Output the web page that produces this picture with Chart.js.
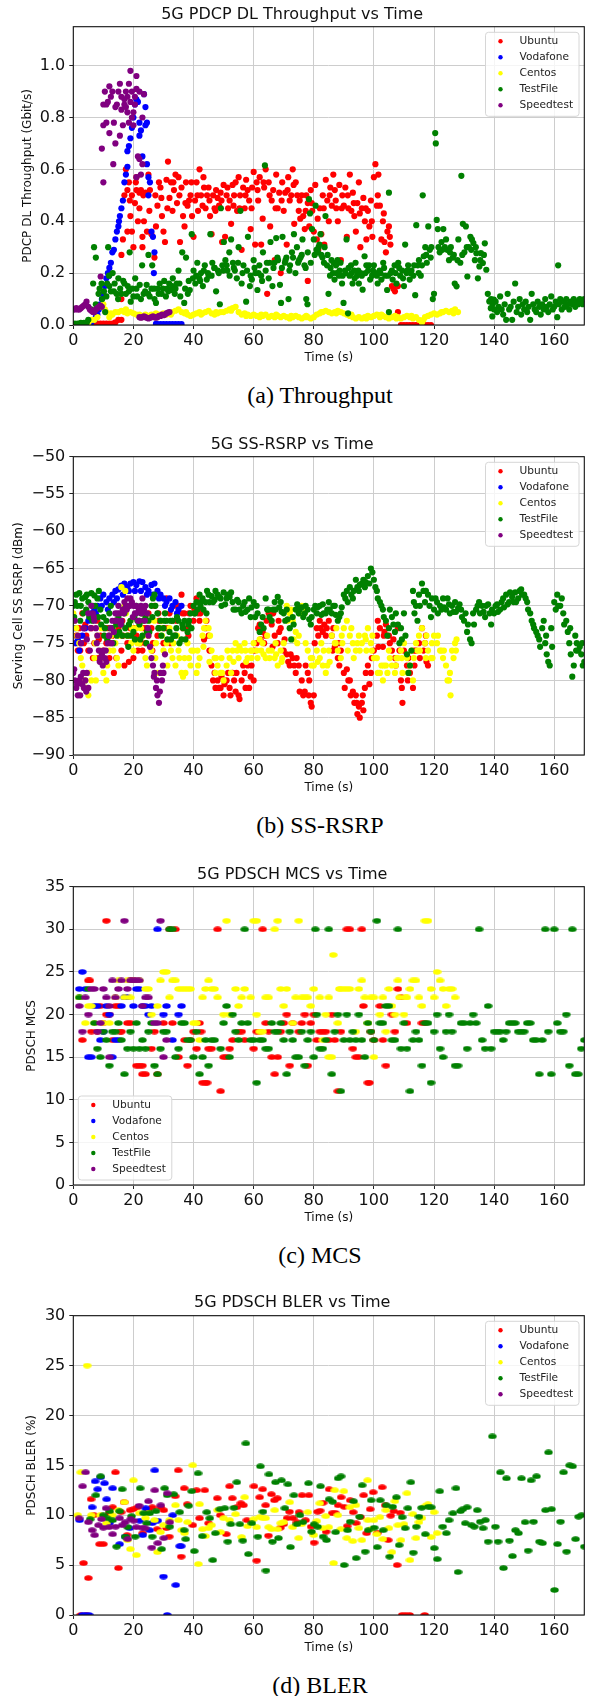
<!DOCTYPE html>
<html>
<head>
<meta charset="utf-8">
<script src="https://cdn.jsdelivr.net/npm/chart.js@4.4.1/dist/chart.umd.min.js"></script>
<style>
  html, body { margin: 0; padding: 0; background: #fff; }
  body { width: 589px; height: 1696px; position: relative; overflow: hidden; }
  .box { position: absolute; left: 0; width: 589px; }
  .cap { position: absolute; left: 0; width: 640px; text-align: center;
         font-family: 'Liberation Serif', 'Times New Roman', serif; font-size: 24px;
         line-height: 28px; color: #000; }
</style>
</head>
<body>
<div class="box" style="top:0px"><canvas id="c1" width="589" height="373"></canvas></div>
<div class="cap" style="top:381px">(a) Throughput</div>
<div class="box" style="top:430px"><canvas id="c2" width="589" height="373"></canvas></div>
<div class="cap" style="top:811px">(b) SS-RSRP</div>
<div class="box" style="top:860px"><canvas id="c3" width="589" height="373"></canvas></div>
<div class="cap" style="top:1241px">(c) MCS</div>
<div class="box" style="top:1288px"><canvas id="c4" width="589" height="375"></canvas></div>
<div class="cap" style="top:1671px">(d) BLER</div>
<script>
const seriesNames = ["Ubuntu", "Vodafone", "Centos", "TestFile", "Speedtest"];
const seriesColors = ["#ff0000", "#0000ff", "#ffff00", "#008000", "#800080"];

// ---- (a) PDCP DL throughput, Gbit/s  [time, value]
const ubuntuTput = [[2,0],[3,0],[4,0],[5,0],[6,0.003],[7,0.003],[8,0.005],[9,0.005],[10,0.005],[11,0.005],[12,0.005],[13,0.005],[14,0.01],[15,0.02],[16,0.02],[16,0.1],
[16,0.27],[16.5,0.33],[17,0.5],[17.5,0.6],[18,0.52],[18,0.36],[18.5,0.55],[19,0.42],[19.5,0.36],[19.5,0.5],[20,0.3],[20.5,0.47],[21,0.57],[21,0.52],[21.5,0.4],[22,0.45],[22,0.51],[22.5,0.52],[23,0.34],[23,0.3],[23.5,0.4],[24,0.51],[24.5,0.36],[25,0.58],[25.5,0.52],[26,0.35],[27,0.26],[27.5,0.38],[28,0.46],[28.5,0.55],[29,0.53],[29.5,0.42],[30,0.36],[30.5,0.32],[31,0.56],[31.5,0.63],[32,0.49],[32.5,0.55],[33,0.44],[33.5,0.52],[34,0.58],[34.5,0.47],[35,0.57],[35.5,0.32],[36,0.53],[36.5,0.42],[37,0.38],[37.5,0.55],[38,0.46],[38.5,0.48],[39,0.5],[39.5,0.42],[40,0.34],[40.5,0.48],[41,0.55],[41.5,0.44],[42,0.6],[42.5,0.5],[43,0.46],[43.5,0.53],[44,0.45],[44.5,0.5],[45,0.53],[45.5,0.42],[46,0.35],[46.5,0.5],[47,0.45],[47.5,0.52],[48,0.49],[48.5,0.46],[49,0.51],[49.5,0.32],[50,0.54],[50.5,0.34],[51,0.5],[51.5,0.45],[52,0.48],[52.5,0.39],[53,0.54],[53.5,0.5],[54,0.55],[54.5,0.44],[55,0.57],[55.5,0.5],[56,0.29],[56.5,0.53],[57,0.45],[57.5,0.56],[58,0.52],[58.5,0.48],[59,0.37],[59.5,0.53],[60,0.59],[60.5,0.31],[61,0.55],[61.5,0.48],[62,0.57],[62.5,0.31],[63,0.41],[63.5,0.53],[64,0.6],[64.5,0.12],[65,0.55],[65.5,0.38],[66,0.48],[66.5,0.52],[67,0.25],[67.5,0.58],[68,0.45],[68.5,0.51],[69,0.2],[69.5,0.55],[70,0.44],[70.5,0.51],[71,0.31],[71.5,0.57],[72,0.48],[72.5,0.5],[73,0.6],[73.5,0.39],[74,0.55],[74.5,0.5],[75,0.44],[75.5,0.41],[76,0.5],[76.5,0.42],[77,0.37],[77.5,0.5],[78,0.17],[78,0.47],[78.5,0.38],[79,0.52],[79.5,0.44],[80,0.36],[80.5,0.54],[81,0.33],[81.5,0.29],[82,0.45],[82.5,0.35],[83,0.5],[83.5,0.31],[84,0.56],[84.5,0.48],[85,0.4],[85.5,0.53],[86,0.46],[86.5,0.58],[87,0.52],[87.5,0.45],[88,0.4],[88.5,0.54],[89,0.25],[89.5,0.5],[90,0.46],[90.5,0.53],[91,0.34],[91.5,0.45],[92,0.58],[92.5,0.44],[93,0.51],[93.5,0.42],[94,0.36],[94.5,0.47],[95,0.55],[95.5,0.3],[96,0.45],[96.5,0.49],[97,0.4],[97.5,0.33],[98,0.44],[98.5,0.38],[99,0.48],[99.5,0.34],[100,0.57],[100.5,0.62],[101,0.46],[101.5,0.58],[102,0.46],[102.5,0.33],[103,0.4],[103.5,0.32],[104,0.28],[104.5,0.36],[105,0.38],[105.5,0.31],[106,0.15],[106.5,0.14],[107,0.13],[108,0.15],[108,0.05],
[18.8,0.48],[20.8,0.55],[23.3,0.5],[25.3,0.44],[27.3,0.5],[29.3,0.49],[31.3,0.45],[33.3,0.55],[35.3,0.5],[37.3,0.47],[39.3,0.55],[41.3,0.5],[43.3,0.57],[45.3,0.48],[47.3,0.44],[49.3,0.48],[51.3,0.53],[53.3,0.46],[55.3,0.45],[57.3,0.5],[59.3,0.45],[61.3,0.52],[63.3,0.55],[65.3,0.5],[67.3,0.45],[69.3,0.48],[71.3,0.52],[73.3,0.54],[75.3,0.48],[77.3,0.44],[79.3,0.47],[81.3,0.41],[83.3,0.45],[85.3,0.5],[87.3,0.48],[89.3,0.45],[91.3,0.5],[93.3,0.47],[95.3,0.43],[97.3,0.45],[99.3,0.4],[101.3,0.5],[103.3,0.43],[105.3,0.34],
[109,0],[110,0],[111,0],[112,0],[113,0],[114,0],[115,0],[116,0],[117,0],[118,0],[119,0]];

const vodafoneTput = [[5,0.005],[6,0.01],[7,0.02],[7.5,0.03],[8,0.04],[8.5,0.06],[9,0.08],[9.5,0.1],[10,0.12],[10.5,0.15],[11,0.18],[11.5,0.2],[11.9,0.19],[12,0.22],[12.5,0.24],[13,0.28],[13.5,0.29],[14,0.33],[14.5,0.36],[15,0.38],[15.2,0.4],[15.5,0.42],[16,0.45],[16.5,0.48],[17,0.55],[17.5,0.58],[18,0.61],[18,0.67],[18.5,0.69],[19,0.72],[19.5,0.76],[20,0.8],[20.5,0.85],[21,0.87],[21.5,0.86],[22,0.78],[22,0.73],[22.5,0.75],[23,0.65],[23.5,0.89],[24,0.84],[24,0.77],[24.5,0.78],[24.5,0.62],[25,0.57],[25,0.5],[25.5,0.55],[26,0.36],[26.5,0.34],[27,0.28],[26.8,0.2],
[27.5,0.004],[28,0.003],[29,0.003],[30,0.003],[31,0.003],[32,0.003],[33,0.003],[34,0.003],[35,0.003],[36,0.003]];

const centosTput = [[0,0],[1,0],[2,0.003],[3,0.005],[4,0.005],[5,0.008],[6,0.02],[7,0.02],[8,0.03],[9,0.07],[10,0.08],[10.5,0.06],[11,0.05],[12,0.03],[13,0.04],[14,0.05],[15,0.05],[16,0.055],[17,0.05],[18,0.045],[19,0.05],[20,0.045],[21,0.04],[22,0.04],[23,0.035],[24,0.04],[25,0.035],[26,0.04],[27,0.04],[28,0.04],[29,0.04],[30,0.045],[31,0.04],[32,0.045],[33,0.05],[34,0.055],[35,0.06],[36,0.05],[37,0.045],[38,0.04],[39,0.035],[40,0.04],[41,0.045],[42,0.05],[43,0.045],[44,0.05],[45,0.055],[46,0.045],[47,0.04],[48,0.045],[49,0.05],[50,0.05],[51,0.055],[52,0.06],[53,0.065],[54,0.07],[55,0.05],[56,0.04],[57,0.045],[58,0.04],[59,0.035],[60,0.04],[61,0.035],[62,0.03],[63,0.035],[64,0.04],[65,0.03],[66,0.035],[67,0.03],[68,0.035],[69,0.03],[70,0.035],[71,0.03],[72,0.025],[73,0.03],[74,0.035],[75,0.03],[76,0.025],[77,0.03],[78,0.03],[79,0.025],[80,0.03],[81,0.04],[82,0.045],[83,0.05],[84,0.055],[85,0.05],[86,0.045],[87,0.05],[88,0.055],[89,0.05],[90,0.045],[91,0.04],[92,0.035],[93,0.03],[94,0.025],[95,0.03],[96,0.025],[97,0.03],[98,0.035],[99,0.03],[100,0.035],[101,0.04],[102,0.03],[103,0.035],[104,0.03],[105,0.025],[106,0.03],[107,0.035],[108,0.03],[109,0.025],[110,0.03],[111,0.035],[112,0.03],[113,0.025],[114,0.03],[115,0.02],[116,0.01],[116.5,0.02],[117,0.03],[118,0.035],[119,0.04],[120,0.045],[121,0.04],[122,0.045],[123,0.05],[124,0.055],[125,0.05],[126,0.055],[127,0.06],[128,0.05],
[12.5,0.045],[17.5,0.06],[22.5,0.03],[27.5,0.045],[32.5,0.04],[37.5,0.05],[42.5,0.04],[47.5,0.05],[52.5,0.055],[57.5,0.035],[62.5,0.04],[67.5,0.04],[72.5,0.035],[77.5,0.035],[82.5,0.05],[87.5,0.045],[92.5,0.04],[97.5,0.025],[102.5,0.04],[107.5,0.025],[112.5,0.035],[122.5,0.05],[126.5,0.045]];

const testfileTput = [[0.5,0.005],[1.5,0.005],[2.5,0.008],[3.5,0.008],[4.5,0.01],[5,0.02],[5.9,0.06],[6.6,0.16],[6.9,0.3],[7.5,0.26],[7.5,0.08],[8.4,0.12],[8.75,0.14],[9.4,0.16],[9.6,0.1],[10.6,0.05],[11.25,0.16],[11.6,0.3],[11.9,0.19],[12.5,0.13],[13.1,0.2],[13.75,0.16],[14.4,0.12],[15,0.18],[15.6,0.14],[16.6,0.17],[17.5,0.12],[18.1,0.15],[18.75,0.28],[19.1,0.09],[19.6,0.14],[20.6,0.18],[21.25,0.11],[22.1,0.155],[22.9,0.23],[23.4,0.12],[24.4,0.155],[25,0.27],[25.4,0.11],[26.25,0.23],[26.9,0.14],[27.5,0.085],[28.1,0.14],[28.75,0.16],[29.4,0.12],[30.25,0.17],[31.25,0.14],[31.9,0.16],[32.5,0.135],[33.1,0.18],[33.75,0.12],[34.4,0.16],[35,0.21],[35.6,0.11],[36.25,0.28],[36.9,0.085],[37.5,0.26],[38.1,0.12],[38.75,0.135],[39.4,0.35],[40,0.21],[40.6,0.16],[41.25,0.24],[41.9,0.18],[42.5,0.2],[43.1,0.15],[43.75,0.23],[44.4,0.175],[45,0.19],[45.6,0.35],[46.25,0.24],[46.9,0.22],[47.5,0.13],[48.1,0.21],[48.75,0.08],[49.1,0.45],[49.6,0.23],[50.1,0.32],[50.6,0.25],[51.25,0.21],[51.9,0.28],[52.5,0.33],[53.1,0.24],[53.75,0.21],[54.4,0.18],[55,0.3],[55.6,0.44],[56,0.16],[56.6,0.23],[57.5,0.09],[58.1,0.34],[58.75,0.15],[59.4,0.175],[60,0.25],[60.6,0.2],[61.25,0.135],[61.9,0.23],[62.5,0.19],[63.1,0.28],[63.75,0.615],[64.4,0.24],[65,0.18],[65.6,0.32],[66.25,0.15],[66.9,0.24],[67.5,0.335],[68.1,0.25],[68.75,0.155],[69.1,0.085],[69.6,0.34],[70.4,0.24],[70.9,0.26],[71.6,0.1],[72.1,0.23],[72.75,0.28],[73.4,0.35],[73.9,0.2],[74.4,0.3],[75.1,0.25],[75.6,0.26],[76.25,0.33],[76.9,0.23],[77.5,0.1],[77.9,0.08],[78.4,0.485],[78.75,0.43],[79.4,0.37],[80,0.33],[80.6,0.46],[80.9,0.29],[81.4,0.28],[81.9,0.31],[82.25,0.35],[82.9,0.26],[83.4,0.24],[83.9,0.42],[84.4,0.23],[84.9,0.12],[85.4,0.19],[85.9,0.25],[86.4,0.2],[86.9,0.175],[87.4,0.23],[87.9,0.25],[88.4,0.19],[88.9,0.24],[89.4,0.16],[89.9,0.085],[90.4,0.21],[90.9,0.33],[91.4,0.045],[91.9,0.19],[92.4,0.23],[92.9,0.16],[93.4,0.21],[93.9,0.24],[94.4,0.19],[95,0.16],[95.6,0.2],[96.25,0.136],[96.9,0.265],[97.5,0.23],[98.1,0.21],[98.75,0.175],[99.4,0.19],[100,0.23],[100.6,0.2],[101.25,0.16],[101.9,0.21],[102.5,0.175],[103.1,0.24],[103.75,0.19],[104.4,0.135],[105,0.51],[105,0.05],[105.6,0.2],[106.25,0.175],[106.9,0.23],[107.5,0.16],[108.1,0.24],[108.75,0.19],[109.4,0.21],[110,0.15],[110.4,0.31],[110.9,0.2],[111.4,0.23],[111.9,0.175],[112.5,0.21],[113.1,0.19],[113.75,0.115],[114.1,0.385],[114.6,0.23],[115,0.25],[115.6,0.19],[116.25,0.5],[116.6,0.265],[117.1,0.3],[117.6,0.24],[118.1,0.38],[118.6,0.29],[119.1,0.3],[119.6,0.1],[120,0.12],[120.4,0.74],[120.6,0.7],[120.9,0.405],[121.25,0.37],[121.9,0.28],[122.5,0.32],[123.1,0.37],[123.6,0.3],[124.4,0.29],[125,0.25],[125.6,0.3],[126.25,0.26],[126.9,0.16],[127.5,0.149],[128.1,0.33],[128.75,0.24],[129.1,0.575],[129.6,0.39],[130.1,0.28],[130.6,0.38],[131.1,0.187],[131.6,0.3],[132.1,0.34],[132.6,0.33],[133.1,0.316],[133.6,0.25],[134.1,0.277],[134.6,0.18],[135.1,0.226],[135.6,0.277],[136.25,0.239],[136.9,0.315],[137.4,0.213],[137.9,0.12],[138.4,0.091],[138.9,0.065],[139.4,0.033],[139.9,0.098],
[10.2,0.13],[11,0.11],[12,0.15],[13.5,0.13],[14.9,0.1],[16,0.12],[17,0.16],[18.5,0.13],[20,0.11],[21,0.14],[22.5,0.1],[23.9,0.13],[24.9,0.12],[26,0.14],[27,0.1],[28.4,0.12],[29.8,0.14],[30.8,0.11],[31.6,0.13],[32.9,0.15],[34,0.14],[35.3,0.16],[37.2,0.14],[38.4,0.17],[39.8,0.18],[40.9,0.19],[42.2,0.17],[43.4,0.21],[44.8,0.2],[46,0.19],[47,0.22],[48.4,0.2],[49.9,0.21],[51,0.23],[52,0.19],[53.4,0.22],[54.8,0.24],[56.3,0.2],[57.8,0.21],[59,0.19],[60.3,0.22],[61.6,0.2],[62.8,0.17],[64,0.21],[65.3,0.24],[66.6,0.22],[67.9,0.26],[69.4,0.22],[70.6,0.25],[71.9,0.21],[73.1,0.26],[74.8,0.24],[76,0.27],[77.3,0.22],[78,0.28],[79,0.24],[80.3,0.27],[81.6,0.3],[82.5,0.27],[83.6,0.3],[84.6,0.27],[85.6,0.22],[86.6,0.24],[87.6,0.2],[88.6,0.21],[89.6,0.19],[90.6,0.2],[91.6,0.22],[92.6,0.2],[93.6,0.18],[94.8,0.21],[96,0.19],[97.2,0.2],[98.4,0.23],[99.7,0.21],[101,0.19],[102.2,0.2],[103.4,0.22],[104.7,0.19],[106,0.21],[107.2,0.2],[108.4,0.22],[109.7,0.18],[111.1,0.21],[112.2,0.2],[113.4,0.23],[114.9,0.2],[116,0.23],[117.4,0.27],[118.9,0.26],[121.5,0.3],[122.8,0.29],[124,0.33],[125.3,0.28],[126.6,0.27],[127.8,0.25],[129.4,0.27],[130.9,0.3],[132.4,0.29],[133.9,0.3],[135.4,0.25],[136.6,0.27],
[139,0.1],[139.5,0.08],[140,0.06],[140.5,0.09],[141,0.05],[141.5,0.07],[142,0.11],[142.5,0.06],[143,0.04],[143.5,0.08],[144,0.02],[144.5,0.12],[145,0.06],[145.5,0.07],[146,0.02],[146.5,0.09],[147,0.16],[147.5,0.05],[148,0.07],[148.5,0.1],[149,0.04],[149.5,0.08],[150,0.06],[150.5,0.09],[151,0.05],[151.5,0.07],[152,0.02],[152.5,0.12],[153,0.08],[153.5,0.06],[154,0.05],[154.5,0.09],[155,0.07],[155.5,0.04],[156,0.08],[156.5,0.06],[157,0.1],[157.5,0.07],[158,0.05],[158.5,0.08],[159,0.11],[159.5,0.06],[160,0.07],[160.5,0.09],[161,0.03],[161.3,0.23],[161.5,0.08],[162,0.1],[162.5,0.06],[163,0.09],[163.5,0.07],[164,0.1],[164.5,0.08],[165,0.06],[165.5,0.09],[166,0.08],[166.5,0.1],[167,0.07],[167.5,0.09],[168,0.08],[168.5,0.1],[169,0.09],[169.5,0.08],[170,0.1]];

const speedtestTput = [[0,0.06],[0.5,0.06],[1,0.065],[1.5,0.06],[2,0.06],[2.5,0.065],[3,0.07],[3.5,0.075],[4,0.08],[4.4,0.09],[5,0.07],[5.5,0.06],[6,0.055],[6.5,0.05],[7,0.05],[7.5,0.06],[8,0.065],[8.5,0.07],[9,0.075],[9.1,0.187],[9.5,0.07],
[9.5,0.68],[10,0.55],[10,0.77],[10,0.85],[10.5,0.9],[11,0.85],[11,0.78],[11.5,0.86],[12,0.92],[12,0.74],[12.5,0.88],[13,0.9],[13.3,0.62],[13.5,0.78],[14,0.7],[14,0.84],[14.5,0.85],[15,0.9],[15.5,0.93],[15.5,0.73],[16,0.88],[16,0.83],[16.5,0.77],[17,0.85],[17,0.87],[17.5,0.84],[17.5,0.9],[18,0.88],[18,0.82],[18.5,0.78],[18.5,0.93],[19,0.98],[19,0.86],[19.5,0.9],[19.5,0.8],[20,0.82],[20,0.77],[20.5,0.88],[20.5,0.85],[21,0.96],[21,0.91],[21,0.57],[21.5,0.65],[22,0.64],[22,0.9],[22.5,0.58],[23,0.62],[23,0.8],[23.5,0.89],
[22,0.03],[22.5,0.028],[23,0.03],[23.5,0.033],[24,0.03],[24.5,0.028],[25,0.025],[25.5,0.028],[26,0.03],[26.5,0.033],[27,0.03],[27.5,0.028],[28,0.03],[28.5,0.035],[29,0.035],[29.5,0.04],[30,0.038],[30.5,0.04],[31,0.045],[31.5,0.048],[32,0.05]];

// ---- (b) SS-RSRP, dBm
const ubuntuRsrp = [[0,-72],[1,-74],[2,-73],[3,-71],[4,-72.5],[5,-76],[6,-73],[7,-75],[8,-72],[9,-74],[10,-76],[11,-75],[12,-77],[13,-74],[14,-72],[15,-73],[16,-76],[17,-78],[18,-75],[19,-73],[20,-77],[21,-74],[22,-72],[23,-76],[24,-75],[25,-71],[26,-73],[27,-70],[28,-74],[29,-72],[30,-75],[31,-69],[32,-71],[33,-72],[34,-74],[35,-70],[36,-68.5],[37,-71],[38,-73],[39,-70],[40,-72],[41,-69],[42,-72],[43,-70.5],[44,-73],[45,-74],[46,-78],[47,-79],[48,-80],[49,-81],[50,-82],[51,-80],[52,-81],[53,-79],[54,-81.5],[55,-82],[56,-80],[57,-79],[58,-78],[59,-79.5],[60,-80],[61,-75],[62,-72.5],[63,-73.5],[64,-74],[65,-71],[66,-72.5],[67,-74],[68,-75],[69,-73],[70,-76],[71,-76.5],[72,-78],[73,-77],[74,-79],[75,-78],[76,-80],[77,-81.5],[78,-79],[79,-83],[80,-82],[81,-73],[82,-72],[83,-73.5],[84,-74],[85,-72],[86,-74],[87,-75.5],[88,-77],[89,-76],[90,-79],[91,-78.5],[92,-80],[93,-81.5],[94,-82],[94.5,-84.5],[95,-83.5],[96,-83],[97,-81],[98,-78],[99,-79],[100,-76],[101,-74],[102,-73],[103,-75.5],[104,-72.5],[105,-74],[106,-76],[107,-77],[108,-73],[109,-80],[109.5,-83],[110,-76],[111,-78],[112,-79],[113,-81],[114,-76],[115,-75],[116,-73],[117,-75],[118,-78],
[1.5,-76],[3.5,-75],[6.5,-77],[8.5,-74.5],[11.5,-73],[13.5,-79],[16.5,-74],[18.5,-77.5],[21.5,-76],[23.5,-73],[26.5,-75],[28.5,-72],[31.5,-73],[33.5,-70],[36.5,-73],[38.5,-71],[41.5,-71],[43.5,-74.5],[46.5,-80],[48.5,-81],[51.5,-79],[53.5,-80],[56.5,-78],[58.5,-81],[61.5,-73],[63.5,-75],[66.5,-71],[68.5,-73.5],[71.5,-77.5],[73.5,-78],[76.5,-82],[78.5,-80],[81.5,-74],[83.5,-72.5],[86.5,-73],[88.5,-78],[91.5,-80],[93.5,-83],[96.5,-84],[98.5,-80.5],[101.5,-75.5],[103.5,-73.5],[106.5,-74.5],[108.5,-76],[111.5,-77],[113.5,-78],[116.5,-76],[117.5,-77.5],
[0.3,-75],[2.3,-76],[4.3,-74],[6.3,-71],[8.3,-77],[10.3,-73],[12.3,-75],[14.3,-77],[16.3,-72],[18.3,-74],[20.3,-73],[22.3,-75],[24.3,-73],[26.3,-76],[28.3,-71],[30.3,-73],[32.3,-75],[34.3,-72],[36.3,-71],[38.3,-74],[40.3,-70.5],[42.3,-71],[44.3,-72],[45.3,-76],[47.3,-81],[49.3,-79.5],[50.3,-80.5],[52.3,-82],[54.3,-79],[55.3,-82.5],[57.3,-81],[59.3,-78],[60.3,-76],[62.3,-74.5],[64.3,-72],[66.3,-75.5],[68.3,-72],[70.3,-74.5],[72.3,-76.5],[74.3,-77],[75.3,-81.5],[77.3,-78],[78.3,-82],[79.3,-83.5],[80.3,-75],[82.3,-73],[84.3,-73],[86.3,-76],[88.3,-75],[90.3,-81],[92.3,-82],[94.3,-83],[95.3,-85],[96.3,-82],[97.3,-79],[99.3,-77],[101.3,-72],[103.3,-74],[105.3,-75],[107.3,-78],[109.3,-81],[111.3,-80],[113.3,-76],[115.3,-77],[117.3,-74]];

const vodafoneRsrp = [[0,-72],[0.5,-73],[1,-75],[1.5,-74.5],[2,-76],[3,-74],[4,-73],[5,-72],[6,-71],[7,-70.5],[8,-70],[9,-69],[10,-68.5],[11,-69.5],[12,-69],[13,-68.5],[14,-68],[15,-67.8],[16,-67.3],[17,-67],[18,-67.5],[19,-67],[20,-66.8],[21,-67.2],[22,-66.7],[23,-66.8],[24,-67.5],[25,-68],[26,-67.2],[27,-67],[28,-68],[29,-68.5],[30,-69],[31,-69.5],[32,-69],[33,-70],[34,-69.5],[35,-70.5],[36,-70],
[2.5,-75],[3.5,-73],[5.5,-71.5],[7.5,-71],[9.5,-70],[11.5,-70.5],[13.5,-69.5],[14.5,-69],[16.5,-68.5],[18.5,-68],[20.5,-68],[22.5,-68],[24.5,-68.5],[26.5,-68.5],[28.5,-69],[30.5,-70],[32.5,-70.5],[34.5,-71]];

const centosRsrp = [[0,-71],[1,-73],[2,-75],[3,-78],[4,-80],[5,-82],[6,-80],[7,-77],[8,-74],[9,-76],[10,-79],[11,-80],[12,-76],[13,-73],[14,-75],[15,-78],[16,-67.5],[17,-70],[18,-74],[19,-72],[20,-76],[21,-73],[22,-75],[23,-71],[24,-77],[25,-74],[26,-76],[27,-72],[28,-79],[29,-73],[30,-76],[31,-75],[32,-73],[33,-77],[34,-78],[35,-76],[36,-79],[37,-77],[38,-75],[39,-78],[40,-76],[41,-79],[42,-77],[43,-74],[44,-72],[45,-73],[46,-76],[47,-77],[48,-78],[49,-79],[50,-80],[51,-78],[52,-77],[53,-76],[54,-75],[55,-77],[56,-76],[57,-75],[58,-77],[59,-76],[60,-75],[61,-76],[62,-74.5],[63,-75],[64,-77],[65,-76],[66,-76],[67,-77],[68,-78],[69,-76],[70,-75],[71,-70],[72,-71],[73,-72],[74,-73.5],[75,-74],[76,-70],[77,-71],[78,-76],[79,-77],[80,-78],[81,-76],[82,-77],[83,-78],[84,-79],[85,-76],[86,-74],[87,-75],[88,-76],[89,-77],[90,-73],[91,-72],[92,-74],[93,-75],[94,-76],[95,-74],[96,-75],[97,-74],[98,-73],[99,-75],[100,-77],[101,-77],[102,-79],[103,-80],[104,-78],[105,-76],[106,-78],[107,-79],[108,-77],[109,-76],[110,-75],[111,-77],[112,-78],[113,-80],[114,-75],[115,-74],[116,-73],[117,-75],[118,-76],[119,-77],[120,-74],[121,-75],[122,-76],[123,-77],[124,-78],[125,-80],[125.5,-82],[126,-76],[127,-75],
[0.5,-72],[2.5,-77],[4.5,-81],[7.5,-80],[9.5,-77],[12.5,-74],[14.5,-77],[17.5,-71],[19.5,-73],[22.5,-73],[24.5,-78],[27.5,-75],[29.5,-74],[32.5,-76],[34.5,-74],[36.5,-79.5],[38.5,-77],[41.5,-78],[43.5,-73],[45.5,-74],[47.5,-77],[49.5,-79],[52.5,-79],[54.5,-76],[57.5,-77.5],[59.5,-76],[62.5,-76],[64.5,-74],[67.5,-76.5],[69.5,-77],[72.5,-70.5],[74.5,-75],[77.5,-70.5],[79.5,-77],[82.5,-75],[84.5,-78],[87.5,-73],[89.5,-75],[92.5,-73],[94.5,-75],[97.5,-76],[99.5,-74],[102.5,-78],[104.5,-79],[107.5,-77],[109.5,-79],[112.5,-76],[114.5,-76],[117.5,-74],[119.5,-77],[122.5,-76],[124.5,-80],[126.5,-77],[127.5,-74.5],
[1.3,-74],[3.3,-80],[5.3,-79],[7.3,-75],[9.3,-73],[11.3,-78],[13.3,-76],[15.3,-74],[17.3,-68],[19.3,-75],[21.3,-75],[23.3,-74],[25.3,-72],[27.3,-77],[29.3,-72],[31.3,-78],[33.3,-75],[35.3,-77],[37.3,-79],[39.3,-76],[41.3,-76],[43.3,-75.5],[45.3,-77.5],[47.3,-79],[49.3,-77],[51.3,-76],[53.3,-77.5],[55.3,-75.5],[57.3,-76],[59.3,-77],[61.3,-77],[63.3,-76.5],[65.3,-77],[67.3,-75],[69.3,-77.5],[71.3,-72],[73.3,-74.5],[75.3,-71],[77.3,-75],[79.3,-78],[81.3,-77.5],[83.3,-76],[85.3,-77.5],[87.3,-75],[89.3,-74],[91.3,-76],[93.3,-77],[95.3,-76],[97.3,-74.5],[99.3,-76],[101.3,-79],[103.3,-78],[105.3,-77],[107.3,-78],[109.3,-77],[111.3,-79],[113.3,-77],[115.3,-76],[117.3,-77],[119.3,-75],[121.3,-74],[123.3,-76],[125.3,-79],[127.3,-76]];

const testfileRsrp = [[0,-70],[1,-68.5],[2,-68.3],[3,-69],[4,-68.8],[5,-69.5],[6,-68.3],[7,-68.6],[8,-69],[9,-70.5],[10,-71.5],[11,-72],[12,-71],[13,-73],[14,-72],[15,-71.5],[16,-72.5],[17,-71],[18,-74],[19,-72],[20,-73.5],[21,-70],[22,-72.5],[23,-74],[24,-71.5],[25,-72],[26,-70],[27,-68.5],[28,-71],[29,-72],[30,-73],[31,-72],[32,-73.5],[33,-72],[34,-74],[35,-72],[36,-74.5],[37,-72],[38,-73.5],[39,-71],[40,-70],[41,-69.5],[42,-68.5],[43,-69],[44,-69.5],[45,-68.5],[46,-68.7],[47,-69.2],[48,-68.5],[49,-69],[50,-68.2],[51,-69],[52,-68.8],[53,-69.5],[54,-70.5],[55,-69.5],[56,-71],[57,-69.5],[58,-70.5],[59,-71.5],[60,-69.5],[61,-70],[62,-73.5],[63,-71.5],[64,-69],[65,-70.5],[66,-72],[67,-69.5],[68,-68.8],[69,-69.5],[70,-71],[71,-70.5],[72,-73],[73,-71.5],[74,-70.5],[75,-71],[76,-70.2],[77,-71],[78,-70.5],[79,-72.5],[80,-70.5],[81,-71],[82,-70],[83,-69.8],[84,-71],[85,-69.5],[86,-71],[87,-70],[88,-72],[89,-71],[90,-68.5],[91,-68],[92,-67.5],[93,-69],[94,-66.5],[95,-68],[96,-67],[97,-67.5],[98,-66],[99,-65],[100,-66.5],[101,-68],[102,-69.5],[103,-70.5],[104,-72],[105,-73],[106,-71.5],[107,-73.5],[108,-72.5],[109,-73],[110,-71],[111,-76.5],[112,-78],[113,-68],[114,-70],[115,-68.5],[116,-67],[117,-69.5],[118,-68.5],[119,-71.5],[120,-70.5],[121,-69.5],[122,-70],[123,-69],[124,-70.5],[125,-69.8],[126,-70],[127,-69.5],[128,-70.3],[129,-70.5],[130,-72],[131,-73.5],[132,-74.5],[133,-71],[134,-70.5],[135,-69.5],[136,-70],[137,-71.5],[138,-69.8],[139,-72.5],[140,-71],[141,-69.8],[142,-70.5],[143,-69],[144,-68.5],[145,-69.5],[146,-68.8],[147,-68.2],[148,-69],[149,-67.8],[150,-68.5],[151,-69.5],[152,-71],[153,-72.5],[154,-73.5],[155,-74.5],[156,-73],[157,-75],[158,-77.5],[159,-73],[160,-69.5],[161,-68.5],[162,-70],[163,-71],[164,-72],[165,-75],[166,-79.5],[167,-74],[168,-76],[169,-76.5],[170,-77.5],
[0.5,-69.5],[2.5,-70],[4.5,-68.5],[6.5,-70],[8.5,-68],[10.5,-73],[12.5,-70],[14.5,-74],[16.5,-70.5],[18.5,-72.5],[20.5,-74.5],[22.5,-71],[24.5,-73.5],[26.5,-69],[28.5,-73],[30.5,-71],[32.5,-74.5],[34.5,-71.5],[36.5,-73],[38.5,-72],[40.5,-71],[42.5,-69.5],[44.5,-68],[46.5,-69.5],[48.5,-68.8],[50.5,-69.8],[52.5,-68.2],[54.5,-69.2],[56.5,-70],[58.5,-69],[60.5,-71.5],[62.5,-72.5],[64.5,-70.5],[66.5,-70.5],[68.5,-70.2],[70.5,-72],[72.5,-74.5],[74.5,-69.8],[76.5,-71.5],[78.5,-71.8],[80.5,-70],[82.5,-71.2],[84.5,-70.5],[86.5,-70],[88.5,-71.5],[90.5,-69],[92.5,-68.5],[94.5,-67.5],[96.5,-66.5],[98.5,-67],[99.5,-65.5],[100.5,-67.5],[102.5,-70],[104.5,-74],[106.5,-72.5],[108.5,-75],[110.5,-74],[111.5,-79],[112.5,-76],[113.5,-71],[114.5,-72],[116.5,-68],[118.5,-70],[120.5,-69],[122.5,-70.5],[124.5,-69],[126.5,-70.8],[128.5,-69.8],[130.5,-71],[132.5,-75],[134.5,-70],[136.5,-70.8],[138.5,-71],[140.5,-70],[142.5,-69.5],[144.5,-69.8],[146.5,-69.5],[148.5,-68],[150.5,-69],[152.5,-72],[154.5,-74],[156.5,-72],[157.5,-76.5],[158.5,-78],[160.5,-70.5],[162.5,-69],[164.5,-73.5],[165.5,-76.5],[166.5,-78],[167.5,-75],[168.5,-75.5],[169.5,-78],
[0.3,-71.5],[1.3,-70],[2.3,-72],[3.3,-71],[4.3,-70.5],[5.3,-71.5],[6.3,-72],[7.3,-70],[8.3,-71.5],[9.3,-72.5],[10.3,-74],[11.3,-74.5],[12.3,-73],[13.3,-75],[14.3,-72.5],[15.3,-73.5],[16.3,-74],[17.3,-73],[18.3,-75.5],[19.3,-74],[20.3,-71.5],[21.3,-72],[22.3,-74.5],[23.3,-72],[24.3,-75],[25.3,-73.5],[26.3,-71.5],[27.3,-70],[28.3,-73],[29.3,-74],[30.3,-72],[31.3,-74.5],[32.3,-72],[33.3,-74],[34.3,-73],[35.3,-75],[36.3,-72.5],[37.3,-74.5],[38.3,-72.5],[39.3,-73],[40.3,-71],[41.3,-70.5],[42.3,-70],[43.3,-70.5],[44.3,-71],
[45.3,-69.5],[47.3,-68],[49.3,-70],[51.3,-68.5],[53.3,-70.5],[55.3,-70.5],[57.3,-70.8],[59.3,-70.2],[61.3,-71],[63.3,-73],[65.3,-71.5],[67.3,-70.5],[69.3,-70.8],[71.3,-71.8],[73.3,-72.5],[75.3,-70.5],[77.3,-70],[79.3,-71.5],[81.3,-70.2],[83.3,-71],[85.3,-70.5],[87.3,-71.2],[89.3,-70.2],[91.3,-69.5],[93.3,-68],[95.3,-67.2],[97.3,-66.8],[101.3,-69],[103.3,-71.5],[105.3,-70.5],[107.3,-71],[109.3,-74.5],[113.3,-69.5],[115.3,-70],[117.3,-68],[119.3,-69],[121.3,-71],[123.3,-70.2],[125.3,-71],[127.3,-70.8],[129.3,-71.5],[131.3,-72.5],[133.3,-72.5],[135.3,-71],[137.3,-70],[139.3,-70.5],[141.3,-70.8],[143.3,-70.2],[145.3,-68.2],[147.3,-69.5],[149.3,-68.5],[151.3,-70.5],[153.3,-73],[155.3,-75.5],[157.3,-74],[159.3,-75.5],[161.3,-70],[163.3,-72.5],[165.3,-73],[167.3,-76],[169.3,-75]];

const speedtestRsrp = [[0,-79],[0.5,-80],[1,-81],[1.5,-82],[2,-80],[2.5,-79.5],[3,-80.5],[3.5,-81],[4,-80],[4.5,-79],[5,-81],
[0.5,-72],[1.5,-74],[2.5,-75],[3.5,-73],[4.5,-74.5],[5.5,-76],
[5,-71],[6,-70],[6.5,-71],[7,-72],[7.5,-73],[8,-74],[8.5,-76],[9,-77],[9.5,-76.5],[10,-76],[10.5,-77],[11,-77.5],[11.5,-75],[12,-74],[12.5,-73],[13,-72],[13.5,-73.5],[14,-71],[14.5,-72],[15,-70],[15.5,-71],[16,-72],[16.5,-70.5],[17,-69.5],[17.5,-70],[18,-69],[18.5,-70],[19,-69],[19.5,-69.5],[20,-70],[20.5,-71],[21,-71],[21.5,-72],[22,-72],[22.5,-70],[23,-69],[23.5,-70.5],[24,-70],[24.5,-71],[25,-74],[25.5,-75.5],[26,-77],[26.5,-78],[27,-79],[27.5,-81],[28,-82],[28.5,-83],[29,-79],[29.5,-80],[30,-79],[30.5,-76.5],
[0.3,-78.5],[1.3,-80.5],[2.3,-82],[3.3,-79],[4.3,-81.5],[5.8,-73],[6.8,-71.5],[7.8,-75],[8.8,-77.5],[9.8,-78],[10.8,-76],[11.8,-74],[12.8,-75],[13.8,-72],[14.8,-71],[15.8,-72.5],[16.8,-71],[17.8,-70.5],[18.8,-70],[19.8,-71.5],[20.8,-70],[21.8,-70.5],[22.8,-71],[23.8,-72],[24.8,-73],[26.8,-79.5],[27.8,-80],[28.8,-81.5],[29.8,-78]];

// ---- (c) PDSCH MCS index
const ubuntuMcs = [[11,31],[3,17],[5,24],[5.5,24],[6,18],[8,18],[9,21],[10,19],[11,20],[12,20],[13,17],[14,21],[15,21],[15.5,18],[16,18],[18,19],[19,19],[19,24],[20,24],[21,14],[22,14],[23,14],[23,13],[24,13],[26,16],[27,18],[28,13],[30,19],[32,30],[33,19],[34,30],[35,15],[37,17],[38,14],[39,17],[40,18],[41,16],[42,19],[42.5,18],[43,12],[44,12],[44.5,12],[45,16],[46,16],[48,30],[49,11],[50,15],[51,15],[52,16],[53,17],[55,18],[56,18],[57,17],[60,16],[61,18],[62,18],[63,30],[64,19],[65,18],[66,15],[67,13],[68,15],[69,18],[70,19],[71,20],[72,14],[73,19],[75,18],[76,19],[77,20],[78,14],[79,19],[80,20],[81,17],[82,18],[83,18],[84,18],[85,17],[86,20],[87,17],[88,11],[89,18],[91,30],[92,30],[93,16],[94,15],[95,15],[96,30],[96.5,21],[98,12],[98.5,12],[99,18],[100,17],[102,21],[103,17],[104,14],[106,20],[107,18],[108,23],[109,22],[111,19],[116,19],[117,19]];
const vodafoneMcs = [[2,23],[3,25],[4,23],[5,15],[6,15],[7,21],[8,21],[9,17],[10,18],[11,21],[12,20],[13,15],[14,17],[15,17],[16,21],[17,22],[18,22],[20,21],[21,23],[22,23],[23,21],[24,21],[25,20],[26,21],[28,30],[30,20],[31,21],[33,17],[35,20],[36,21]];
const centosMcs = [[2,22],[4,19],[5,21],[6,21],[7,19],[10,19],[12,19],[14,22],[15,24],[17,22],[18,24],[19,22],[20,24],[22,24],[24,23],[25,23],[26,20],[28,21],[29,24],[30,25],[31,25],[32,22],[33,24],[34,24],[35,23],[36,23],[37,23],[38,23],[39,23],[40,19],[41,19],[42,17],[43,22],[44,23],[45,24],[46,23],[47,23],[48,22],[50,20],[51,31],[52,20],[54,23],[55,21],[56,22],[57,23],[59,22],[60,31],[61,31],[61,20],[62,18],[63,18],[64,22],[65,22],[67,30],[68,31],[69,23],[70,21],[71,23],[73,19],[74,22],[75,31],[76,22],[77,22],[78,22],[79,21],[80,23],[82,22],[83,17],[84,20],[85,22],[85,15],[86,15],[86.5,27],[88,19],[88.5,23],[89,23],[90,23],[91,23],[92,23],[94,18],[95,23],[96,24],[97,22],[98,19],[99,22],[100,22],[100,15],[102,20],[103,22],[104,18],[105,23],[106,21],[107,20],[108,24],[108.5,22],[110,20],[110.5,22],[111,22],[112,23],[113,24],[114,24],[115,22],[116,21],[117,31],[118,31],[119,23],[120,22],[121,25],[122,24],[123,23],[124,21],[125,23],[126,23],[127,22]];
const testfileMcs = [[2,22],[5,23],[7,19],[8,16],[9,15],[10,18],[11,17],[12,14],[13,18],[14,18],[15,19],[16,17],[17,13],[18,16],[19,18],[20,16],[21,19],[22,16],[23,17],[24,16],[25,18],[26,19],[27,14],[28,13],[29,16],[30,18],[31,18],[32,30],[33,30],[34,15],[35,16],[36,19],[37,19],[38,17],[39,17],[40,15],[41,18],[42,13],[43,15],[44,17],[45,14],[46,17],[47,17],[49,16],[50,19],[51,21],[52,15],[53,20],[54,18],[55,17],[56,19],[57,30],[58,19],[59,17],[60,17],[61,12],[62,17],[63,17],[64,16],[65,16],[66,19],[67,18],[68,18],[69,19],[70,17],[71,13],[72,18],[73,17],[74,15],[75,15],[76,18],[77,14],[78,17],[79,18],[80,15],[80.5,30],[81,20],[82,16],[83,16],[84,17],[85,30],[86,13],[87,18],[88,20],[89,11],[90,17],[91,20],[92,17],[93,18],[94,17],[95,20],[96,17],[97,15],[98,19],[99,18],[100,17],[101,31],[102,19],[103,19],[104,21],[105,21],[106,17],[107,17],[108,30],[109,16],[110,19],[111,16],[112,11],[113,17],[114,18],[115,17],[116,14],[117,19],[118,19],[119,12],[120,18],[121,20],[122,16],[123,15],[124,18],[125,20],[126,18],[127,14],[128,14],[129,19],[130,19],[131,16],[132,19],[133,20],[134,19],[135,30],[136,17],[137,16],[138,21],[139,16],[140,18],[141,18],[142,18],[143,17],[144,18],[145,19],[146,19],[147,19],[148,18],[149,18],[150,18],[151,19],[152,19],[153,17],[154,17],[155,13],[156,17],[157,30],[158,18],[159,13],[160,30],[161,19],[162,18],[163,18],[164,20],[165,14],[166,30],[167,13],[168,13],[169,16],[170,17]];
const speedtestMcs = [[2,21],[3,18],[4,22],[5,20],[6,23],[7,23],[8,18],[9,19],[10,23],[11,22],[12,21],[12,15],[13,24],[14,22],[15,23],[16,24],[17,31],[18,23],[19,24],[20,24],[21,24],[22,24],[23,21],[24,22],[25,22],[27,19],[28,19],[29,31],[30,15],[31,17]];

// ---- (d) PDSCH BLER, %
const ubuntuBler = [[2.5,0],[3.4,5.2],[4.4,0],[5,3.7],[5.9,11.6],[6.9,10],[8.75,7.1],[10,7.1],[11.9,10.2],[13.1,10.8],[14,14.3],[15,4.7],[15.9,10.3],[16.9,11.3],[17.9,8],[18.9,10.5],[20,10.6],[21.4,10.8],[23.1,8.2],[25,10.5],[26.25,10.8],[27.9,8.6],[29.1,10.8],[30.1,10.5],[31,8.7],[31.9,7.85],[33.9,11.9],[34.9,14.5],[35.9,5.85],[36.9,12.7],[37.9,11.1],[39.75,9],[41,12.5],[42,9.7],[43.75,12.5],[45,9.2],[47.9,11.7],[48.9,10],[50.9,8.1],[52,12.9],[52.9,11.7],[54.4,10.8],[55.75,11.2],[56.6,11],[57.75,9.5],[60.1,12.9],[61,5.45],[62,11.8],[63,12.6],[64,11],[64.9,7.95],[65.9,12.1],[66.9,11.5],[67.9,11.7],[68.9,8.75],[70,9.1],[71.1,9.7],[71.9,10.35],[73.1,9.7],[74.4,9.3],[75.1,10.3],[76.1,12],[77.25,9.5],[78.4,12],[79.1,8.85],[80.1,7.25],[81.25,10.35],[82.1,10.45],[83.1,11.25],[84.1,8.35],[85.1,12.6],[86.1,10.2],[87.1,10.25],[88.1,11],[89.1,11.8],[90.1,10.85],[91.1,8.9],[92.1,11.5],[93.1,10.3],[94.1,9.2],[95.6,9.8],[96.6,12],[97.6,8.2],[98.75,10.6],[99.75,12.3],[101.25,8.25],[102.75,12.8],[103.75,11],[104.75,7.5],[105.6,9.95],[106.6,10.4],[107.75,5],[108.75,10.25],[109.4,0],[110.6,0],[111.9,0],[116.9,0]];
const vodafoneBler = [[2.1,9.5],[3,0],[4,0],[5.25,0],[6.25,10.8],[7.25,13.4],[8.1,12.6],[9.1,13.8],[10.4,13.2],[11.1,11.6],[12,9.2],[13.1,12.7],[15.4,7.1],[17.25,7.85],[18.75,8.7],[22.1,9.45],[23.1,8],[24.1,10.7],[25.4,8.5],[26.25,9.2],[27.1,14.5],[28.1,9.45],[30,3.85],[31.25,0],[33.1,10],[34.1,3],[35.4,6.9],[35.9,6.9]];
const centosBler = [[1.5,10],[2.5,14.3],[4.6,25],[6,10],[9,10],[11,9.2],[13,10],[15,10.5],[17,11.3],[18,7.5],[19,6.6],[20,13.5],[21,6],[22,10.2],[24,9.7],[25,10.2],[27,9.5],[28,6.3],[29,8.3],[30,9],[32,9.5],[34,11],[35,9.5],[36,8.5],[37,8.2],[38,9.3],[39.75,15],[41.6,5.1],[42,11.1],[43,8.6],[44,7.9],[45,8.7],[46,9],[48,10.5],[49,8.3],[50,9.7],[52,9.5],[54,10.1],[56,7.8],[57,11.8],[58,8.9],[60,9.6],[61,8.8],[62,9.8],[63,9.7],[64,9.7],[65,8.8],[66,8.6],[67,10.5],[68,8.6],[69,9.2],[70,9.3],[72,11.3],[73,8.8],[75,7.7],[76,9.1],[78,10.3],[80,8],[81,9.4],[82,11.2],[83,8.7],[84,9.9],[85,8.8],[86.6,5.2],[87,12.5],[88,10],[89,8.6],[90,12.4],[91,7.7],[92,10.8],[93,7.4],[94,11],[95,8.7],[96,7.5],[97.9,13.5],[98,9.5],[99,8.6],[100,9.5],[101,8.1],[102,9.8],[103,7.6],[104,10.5],[105,8.7],[106,6.3],[107,11.4],[108,9],[109,7.5],[110,9.1],[111,12.2],[112,5.5],[113,10.1],[114,7.7],[115,9.3],[116,9.7],[117,10.9],[118,11.1],[119,7.8],[120,10.3],[121,8.2]];
const testfileBler = [[5.6,9.6],[7.5,12],[9.1,13.9],[10,10],[11.25,9.7],[12.1,10.4],[13.1,9.5],[14.4,6.85],[15.4,10.4],[16.25,12.6],[17.25,7.85],[18.1,8.8],[19.4,9.9],[20.6,7.85],[22.25,12.7],[23.4,10.2],[24.4,9.2],[25.4,10.2],[26.25,7.85],[27.5,10.4],[29.4,6.6],[30.4,12.7],[31.25,12],[32.1,8.85],[33.4,12.1],[35.4,10.3],[36.9,8.5],[37.4,7.6],[38.4,10.95],[39.4,12.4],[40.25,6.4],[41.5,14.2],[42.9,7.9],[44.4,10.3],[45.4,9.7],[46.4,5.5],[47.25,8.2],[48.75,10.6],[50.4,10.7],[51.4,7.35],[52.4,9.1],[53.4,10.75],[54.4,13.3],[55.4,9.1],[56.4,7.45],[57.4,17.2],[58.25,6.1],[59.4,9.2],[61.4,7.85],[62.25,14.9],[63.1,10.35],[64.1,4.45],[65.1,14.1],[66.25,7.35],[67.25,13.3],[68.25,7.7],[69.25,13.5],[70.4,10.7],[71.4,13.1],[72.25,6.8],[73.4,12],[74.4,9.1],[75.4,10],[76.4,9.3],[78.25,13.2],[79.25,8.35],[80.1,9.1],[81.25,8.85],[82.25,12.9],[83.1,7.85],[84.25,7.5],[85.1,11.6],[86.25,11.35],[87.25,8.3],[88.1,13.7],[89.1,13.9],[90.1,5],[91.25,8.5],[92.1,9.35],[93.25,11.4],[94.1,5.7],[95.25,9.85],[96.1,13],[97.1,6.35],[98.1,8.5],[99.1,11.5],[100.1,8.75],[101.1,6.8],[102.1,11.5],[103.1,8.5],[104.1,11],[105.25,5.85],[106.25,10.85],[107.5,11.8],[108.4,7],[109.4,9.8],[110.4,8.7],[111.3,10.7],[112.3,13.3],[113.1,6.25],[114.1,8.85],[115,9.85],[115.9,10.75],[117.1,8.1],[118.1,10.85],[119.1,10.8],[120.1,6.7],[121.1,5.6],[121.9,12.4],[122.9,8.85],[124.1,8.2],[125,9.5],[126.3,10.2],[127.3,12.7],[128,4.3],[128.8,10.4],[129.6,10.6],[130.4,9.2],[131,10.8],[132.5,9],[133.4,8.85],[134.4,10.5],[135.4,9.35],[136.3,8.7],[137.1,9.5],[138,7.35],[139.4,17.9],[140.4,8.85],[141.3,7.35],[142.1,14.3],[143.1,4.7],[144.1,13.7],[145.1,7.45],[146.1,5.9],[147.1,8.5],[148.1,8.2],[149.1,13.7],[150.3,9.3],[151.3,6.45],[152.3,13.5],[153.1,9.35],[154.1,13.9],[155.1,7.35],[156.1,7.2],[157.1,10.5],[158.1,16.3],[159.1,10.6],[160.1,2.5],[161.1,7.1],[162.1,9.35],[163.1,14.3],[164.1,6.35],[165.1,15],[166.1,14.9],[167.1,7.6],[168.1,9.85],[169.1,10],[170,6.85]];
const speedtestBler = [[1.9,9.7],[3.1,12.9],[4.1,14.3],[5,9.3],[6.25,8.5],[7.1,8],[8.4,9],[9.4,9.6],[10,8.75],[10.9,10.7],[11.9,8.8],[13.1,8.1],[14.1,8.85],[15.4,9.7],[16.25,9],[17.25,9.3],[18.1,7.6],[19.1,9.6],[20.1,9.45],[21,8.8],[21.9,10.95],[22.9,8.75],[23.9,8.7],[25,11.4],[26.1,6.75],[27.1,12.5],[28.1,7.2],[29.1,11],[30.1,7.7],[31.25,12.2],[32.1,9.3]];

const FONT = "'DejaVu Sans', 'Liberation Sans', sans-serif";
Chart.defaults.font.family = FONT;
Chart.defaults.color = "#111";

// flattened markers for (c) and (d): the source image was squashed vertically
function ellipseMarker(color) {
  const c = document.createElement("canvas");
  c.width = 9; c.height = 6;
  const g = c.getContext("2d");
  g.fillStyle = color;
  g.beginPath();
  g.ellipse(4.5, 3, 4.2, 2.8, 0, 0, Math.PI * 2);
  g.fill();
  return c;
}
const ellipseMarkers = seriesColors.map(ellipseMarker);

const frame = {
  id: "frame",
  afterDatasetsDraw(chart) {
    const { ctx, chartArea: a } = chart;
    ctx.save();
    ctx.strokeStyle = "#111";
    ctx.lineWidth = 1.1;
    ctx.strokeRect(a.left, a.top, a.right - a.left, a.bottom - a.top);
    ctx.restore();
  }
};

const insetLegend = {
  id: "insetLegend",
  afterDraw(chart, args, opts) {
    const { ctx, chartArea: a } = chart;
    const w = 93.5, h = 84;
    const bl = opts.corner === "bl";
    const x = bl ? a.left + 5 : a.right - w - 5.3;
    const y = bl ? a.bottom - h - 5 : a.top + 5.6;
    ctx.save();
    ctx.beginPath();
    ctx.roundRect(x, y, w, h, 3);
    ctx.fillStyle = "rgba(255,255,255,0.8)";
    ctx.fill();
    ctx.strokeStyle = "#d6d6d6";
    ctx.lineWidth = 1;
    ctx.stroke();
    ctx.font = "10.6px " + FONT;
    ctx.textBaseline = "middle";
    seriesNames.forEach((n, i) => {
      const cy = y + 9 + 16 * i;
      ctx.fillStyle = seriesColors[i];
      ctx.beginPath();
      ctx.arc(x + 15, cy, 2.2, 0, Math.PI * 2);
      ctx.fill();
      ctx.fillStyle = "#222";
      ctx.fillText(n, x + 34, cy);
    });
    ctx.restore();
  }
};

function keepSteps(step) {
  return (s) => {
    s.ticks = s.ticks.filter(t => Math.abs(t.value / step - Math.round(t.value / step)) < 1e-6);
  };
}

function makeChart(id, cfg) {
  const cv = document.getElementById(id);
  const H = cv.height;
  return new Chart(cv, {
    type: "scatter",
    data: {
      datasets: seriesNames.map((n, i) => ({
        label: n,
        data: cfg.data[i].map(p => ({ x: p[0], y: p[1] })),
        backgroundColor: seriesColors[i],
        borderWidth: 0,
        pointRadius: 3.1,
        pointStyle: cfg.ellipse ? ellipseMarkers[i] : "circle",
        order: 5 - i
      }))
    },
    options: {
      responsive: false,
      animation: false,
      events: [],
      layout: { padding: { left: 0, right: 4.7, top: 0, bottom: 0 } },
      plugins: {
        legend: { display: false },
        tooltip: { enabled: false },
        title: {
          display: true, text: cfg.title, color: "#111",
          font: { size: 16, weight: "normal", family: FONT },
          padding: { top: 5.4, bottom: cfg.areaTop - 24.6 }
        },
        insetLegend: { corner: cfg.legend }
      },
      scales: {
        x: {
          type: "linear", min: 0, max: 170,
          ticks: { stepSize: 20, includeBounds: false, autoSkip: false, font: { size: 16 }, color: "#111", padding: 2, maxRotation: 0 },
          grid: { color: "#cdcdcd", lineWidth: 1, tickLength: 4, tickColor: "#222" },
          border: { display: false },
          title: { display: true, text: "Time (s)", font: { size: 12 }, color: "#111",
                   padding: { top: 0, bottom: H - 7.2 - cfg.xTitle } },
          afterBuildTicks: keepSteps(20),
          afterFit: (s) => { s.height = H - cfg.areaBottom; }
        },
        y: {
          type: "linear", min: cfg.yMin, max: cfg.yMax,
          ticks: { stepSize: cfg.yStep, includeBounds: false, autoSkip: false, font: { size: 16 }, color: "#111", padding: 4, callback: cfg.fmt },
          grid: { color: "#cdcdcd", lineWidth: 1, tickLength: 4, tickColor: "#222" },
          border: { display: false },
          title: { display: true, text: cfg.yLabel, font: { size: 12 }, color: "#111",
                   padding: { top: cfg.yTitleX - 7.2, bottom: 0 } },
          afterBuildTicks: keepSteps(cfg.yStep),
          afterFit: (s) => { s.width = 73.3; }
        }
      }
    },
    plugins: [frame, insetLegend]
  });
}

const minus = (v) => (v < 0 ? "\u2212" + Math.abs(v) : String(v));

makeChart("c1", {
  title: "5G PDCP DL Throughput vs Time", yLabel: "PDCP DL Throughput (Gbit/s)",
  data: [ubuntuTput, vodafoneTput, centosTput, testfileTput, speedtestTput],
  yMin: 0, yMax: 1.15, yStep: 0.2, fmt: (v) => v.toFixed(1),
  areaTop: 26.7, areaBottom: 325, xTitle: 358, yTitleX: 28, legend: "tr"
});
makeChart("c2", {
  title: "5G SS-RSRP vs Time", yLabel: "Serving Cell SS RSRP (dBm)",
  data: [ubuntuRsrp, vodafoneRsrp, centosRsrp, testfileRsrp, speedtestRsrp],
  yMin: -90, yMax: -50, yStep: 5, fmt: minus,
  areaTop: 26.7, areaBottom: 325, xTitle: 358, yTitleX: 19, legend: "tr"
});
makeChart("c3", {
  title: "5G PDSCH MCS vs Time", yLabel: "PDSCH MCS",
  data: [ubuntuMcs, vodafoneMcs, centosMcs, testfileMcs, speedtestMcs],
  yMin: 0, yMax: 35, yStep: 5, fmt: (v) => String(v), ellipse: true,
  areaTop: 26.7, areaBottom: 325, xTitle: 358, yTitleX: 32, legend: "bl"
});
makeChart("c4", {
  title: "5G PDSCH BLER vs Time", yLabel: "PDSCH BLER (%)",
  data: [ubuntuBler, vodafoneBler, centosBler, testfileBler, speedtestBler],
  yMin: 0, yMax: 30, yStep: 5, fmt: (v) => String(v), ellipse: true,
  areaTop: 27.7, areaBottom: 327, xTitle: 360, yTitleX: 32, legend: "tr"
});
</script>
</body>
</html>
